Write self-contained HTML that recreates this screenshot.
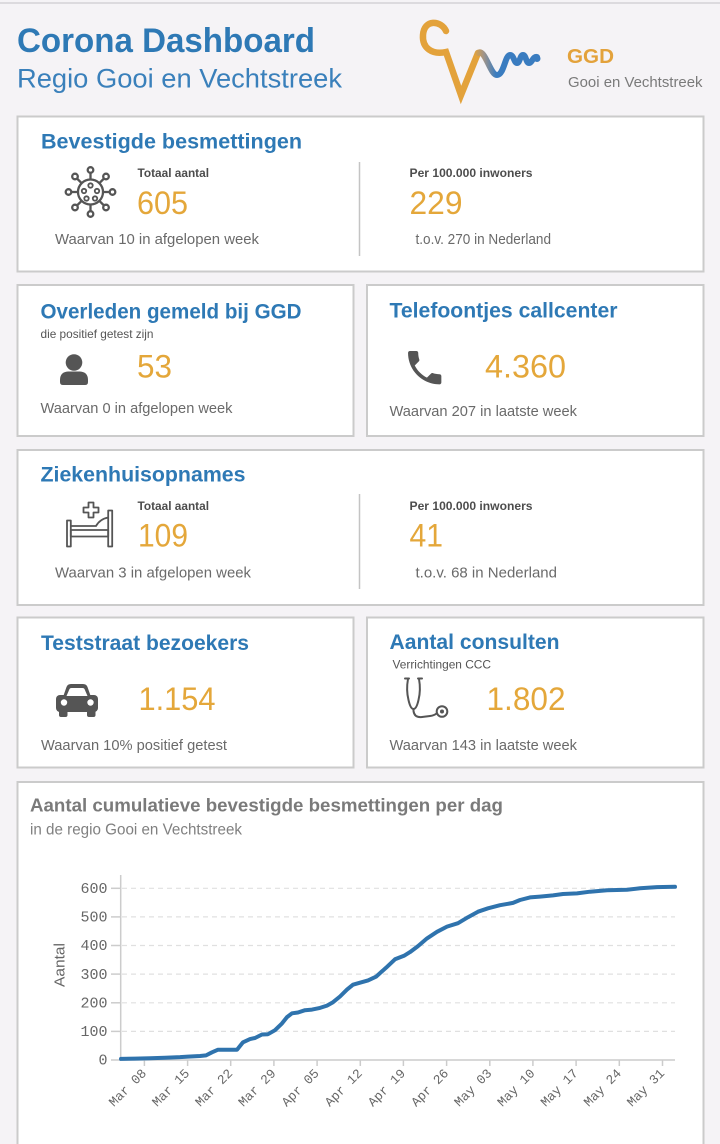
<!DOCTYPE html>
<html>
<head>
<meta charset="utf-8">
<style>
  html, body { margin: 0; padding: 0; background: #f5f3f6; }
  body { width: 720px; height: 1144px; overflow: hidden; }
  svg { display: block; }
</style>
</head>
<body>
<svg width="720" height="1144" viewBox="0 0 720 1144" xmlns="http://www.w3.org/2000/svg" font-family="'Liberation Sans', Arial, sans-serif">
  <defs>
    <linearGradient id="lg" x1="474" y1="0" x2="496" y2="0" gradientUnits="userSpaceOnUse">
      <stop offset="0" stop-color="#e3a23b"/>
      <stop offset="0.45" stop-color="#a0948a"/>
      <stop offset="1" stop-color="#3a7cc0"/>
    </linearGradient>
  </defs>
  <rect width="720" height="1144" fill="#f5f3f6"/>
  <line x1="0" y1="3" x2="720" y2="3" stroke="#d4d2d6" stroke-width="1.5"/>

  <!-- Header -->
  <text x="17" y="52" font-size="34" font-weight="bold" fill="#2e79b5" textLength="298" lengthAdjust="spacingAndGlyphs">Corona Dashboard</text>
  <text x="17" y="87.5" font-size="27" fill="#3a80bb" textLength="325" lengthAdjust="spacingAndGlyphs">Regio Gooi en Vechtstreek</text>

  <!-- Logo -->
  <path d="M446,31 C441,20 424,19 423,35 C422,48 432,55 446,52 L461,95 L478,53" fill="none" stroke="#e3a23b" stroke-width="6.5" stroke-linecap="round" stroke-linejoin="miter" stroke-miterlimit="10"/>
  <path d="M478,53 C485,48 490,75 497,75 C504,75 505,55 510,55 C514,55 514,63 517,63 C520,63 520,55 523,55 C526,55 526,63 529,63 C532,63 533,56 537,57" fill="none" stroke="url(#lg)" stroke-width="6" stroke-linecap="round"/>
  <circle cx="537" cy="58.5" r="3.5" fill="#3a7cc0"/>
  <text x="567" y="63" font-size="20.5" font-weight="bold" fill="#e3a23b" textLength="47" lengthAdjust="spacingAndGlyphs">GGD</text>
  <text x="568" y="87" font-size="14.5" fill="#7a7a7a" textLength="134.5" lengthAdjust="spacingAndGlyphs">Gooi en Vechtstreek</text>

  <!-- Cards -->
  <g fill="#ffffff" stroke="#cbcbcb" stroke-width="2">
    <rect x="17.5" y="116.5" width="686" height="155"/>
    <rect x="17.5" y="285" width="336" height="151"/>
    <rect x="367" y="285" width="336.5" height="151"/>
    <rect x="17.5" y="450" width="686" height="155"/>
    <rect x="17.5" y="617.5" width="336" height="150"/>
    <rect x="367" y="617.5" width="336.5" height="150"/>
    <rect x="17.5" y="782" width="686" height="400"/>
  </g>

  <!-- Card 1 -->
  <text x="41" y="148.5" font-size="21" font-weight="bold" fill="#2e79b5" textLength="261" lengthAdjust="spacingAndGlyphs">Bevestigde besmettingen</text>
  <g fill="none" stroke="#555" stroke-width="2.3">
    <circle cx="90.5" cy="192" r="12.5"/>
    <line x1="90.5" y1="179.5" x2="90.5" y2="173"/>
    <line x1="90.5" y1="204.5" x2="90.5" y2="211"/>
    <line x1="78" y1="192" x2="71.5" y2="192"/>
    <line x1="103" y1="192" x2="109.5" y2="192"/>
    <line x1="81.7" y1="183.2" x2="77" y2="178.5"/>
    <line x1="99.3" y1="183.2" x2="104" y2="178.5"/>
    <line x1="81.7" y1="200.8" x2="77" y2="205.5"/>
    <line x1="99.3" y1="200.8" x2="104" y2="205.5"/>
    <circle cx="90.5" cy="170" r="2.8" fill="#fff"/>
    <circle cx="90.5" cy="214" r="2.8" fill="#fff"/>
    <circle cx="68.5" cy="192" r="2.8" fill="#fff"/>
    <circle cx="112.5" cy="192" r="2.8" fill="#fff"/>
    <circle cx="75" cy="176.5" r="2.8" fill="#fff"/>
    <circle cx="106" cy="176.5" r="2.8" fill="#fff"/>
    <circle cx="75" cy="207.5" r="2.8" fill="#fff"/>
    <circle cx="106" cy="207.5" r="2.8" fill="#fff"/>
  </g>
  <g fill="none" stroke="#555" stroke-width="1.8">
    <circle cx="90.5" cy="185.5" r="2.2"/>
    <circle cx="84" cy="191" r="2.2"/>
    <circle cx="97" cy="191" r="2.2"/>
    <circle cx="86.5" cy="198.5" r="2.2"/>
    <circle cx="95" cy="198.5" r="2.2"/>
  </g>
  <text x="137.5" y="177" font-size="11.7" font-weight="bold" fill="#4d4d4d" textLength="71.5" lengthAdjust="spacingAndGlyphs">Totaal aantal</text>
  <text x="137" y="214" font-size="32" fill="#e4a73a" textLength="51" lengthAdjust="spacingAndGlyphs">605</text>
  <text x="55" y="244" font-size="14.8" fill="#6a6a6a" textLength="204" lengthAdjust="spacingAndGlyphs">Waarvan 10 in afgelopen week</text>
  <line x1="359.5" y1="162" x2="359.5" y2="256" stroke="#c4c4c4" stroke-width="1.5"/>
  <text x="409.5" y="177" font-size="11.7" font-weight="bold" fill="#4d4d4d" textLength="123" lengthAdjust="spacingAndGlyphs">Per 100.000 inwoners</text>
  <text x="409.5" y="214" font-size="32" fill="#e4a73a" textLength="53" lengthAdjust="spacingAndGlyphs">229</text>
  <text x="415.5" y="244" font-size="14.8" fill="#6a6a6a" textLength="135.5" lengthAdjust="spacingAndGlyphs">t.o.v. 270 in Nederland</text>

  <!-- Card 2 -->
  <text x="40.5" y="318.5" font-size="21" font-weight="bold" fill="#2e79b5" textLength="261" lengthAdjust="spacingAndGlyphs">Overleden gemeld bij GGD</text>
  <text x="40.5" y="338" font-size="11.7" fill="#555" textLength="113" lengthAdjust="spacingAndGlyphs">die positief getest zijn</text>
  <circle cx="74" cy="362.5" r="8.3" fill="#555"/>
  <path d="M60,382 L60,380 Q60,372 68,371.5 L80,371.5 Q88,372 88,380 L88,382 Q88,385 85,385 L63,385 Q60,385 60,382 Z" fill="#555"/>
  <text x="137" y="377.5" font-size="32" fill="#e4a73a" textLength="35" lengthAdjust="spacingAndGlyphs">53</text>
  <text x="40.5" y="413" font-size="14.8" fill="#6a6a6a" textLength="192" lengthAdjust="spacingAndGlyphs">Waarvan 0 in afgelopen week</text>

  <!-- Card 3 -->
  <text x="389.5" y="317.5" font-size="21" font-weight="bold" fill="#2e79b5" textLength="228" lengthAdjust="spacingAndGlyphs">Telefoontjes callcenter</text>
  <g transform="translate(402.5,345.5) scale(1.85)">
    <path d="M6.62 10.79c1.44 2.83 3.76 5.14 6.59 6.59l2.2-2.2c.27-.27.67-.36 1.020-.24 1.12.37 2.33.57 3.57.57.55 0 1 .45 1 1V20c0 .55-.45 1-1 1-9.39 0-17-7.61-17-17 0-.55.45-1 1-1h3.5c.55 0 1 .45 1 1 0 1.25.2 2.45.57 3.57.11.35.03.74-.25 1.020l-2.2 2.2z" fill="#555"/>
  </g>
  <text x="485" y="377.5" font-size="32" fill="#e4a73a" textLength="81" lengthAdjust="spacingAndGlyphs">4.360</text>
  <text x="389.5" y="416" font-size="14.8" fill="#6a6a6a" textLength="187.5" lengthAdjust="spacingAndGlyphs">Waarvan 207 in laatste week</text>

  <!-- Card 4 -->
  <text x="40.5" y="481.5" font-size="21" font-weight="bold" fill="#2e79b5" textLength="205" lengthAdjust="spacingAndGlyphs">Ziekenhuisopnames</text>
  <g fill="none" stroke="#555" stroke-width="1.8" stroke-linejoin="round">
    <path d="M88.5,502.5 h5 v5 h5 v5 h-5 v5 h-5 v-5 h-5 v-5 h5 z"/>
    <rect x="67" y="520.5" width="3.8" height="26"/>
    <rect x="108.2" y="510.5" width="4" height="36"/>
    <rect x="70.8" y="530" width="37.4" height="6.5"/>
    <path d="M70.8,526 L96,526 Q100,519 108.2,517.5"/>
  </g>
  <text x="137.5" y="510" font-size="11.7" font-weight="bold" fill="#4d4d4d" textLength="71.5" lengthAdjust="spacingAndGlyphs">Totaal aantal</text>
  <text x="138" y="546.5" font-size="32" fill="#e4a73a" textLength="50" lengthAdjust="spacingAndGlyphs">109</text>
  <text x="55" y="577.5" font-size="14.8" fill="#6a6a6a" textLength="196" lengthAdjust="spacingAndGlyphs">Waarvan 3 in afgelopen week</text>
  <line x1="359.5" y1="494" x2="359.5" y2="589" stroke="#c4c4c4" stroke-width="1.5"/>
  <text x="409.5" y="510" font-size="11.7" font-weight="bold" fill="#4d4d4d" textLength="123" lengthAdjust="spacingAndGlyphs">Per 100.000 inwoners</text>
  <text x="409.5" y="546.5" font-size="32" fill="#e4a73a" textLength="33.5" lengthAdjust="spacingAndGlyphs">41</text>
  <text x="415.5" y="577.5" font-size="14.8" fill="#6a6a6a" textLength="141.5" lengthAdjust="spacingAndGlyphs">t.o.v. 68 in Nederland</text>

  <!-- Card 5 -->
  <text x="41" y="650" font-size="21" font-weight="bold" fill="#2e79b5" textLength="208" lengthAdjust="spacingAndGlyphs">Teststraat bezoekers</text>
  <g fill="#555">
    <path d="M63,697 L66.5,687 Q67.5,684 71,684 L83,684 Q86.5,684 87.5,687 L91,697 Z"/>
    <rect x="56" y="695" width="42" height="17" rx="4"/>
    <rect x="59" y="708" width="8.5" height="9" rx="2"/>
    <rect x="87" y="708" width="8.5" height="9" rx="2"/>
  </g>
  <path d="M66.5,696 L69.5,689 Q70,688 71.5,688 L82.5,688 Q84,688 84.5,689 L87.5,696 Z" fill="#fff"/>
  <circle cx="64" cy="702.5" r="3.2" fill="#fff"/>
  <circle cx="90.5" cy="702.5" r="3.2" fill="#fff"/>
  <text x="138.5" y="710" font-size="32" fill="#e4a73a" textLength="77" lengthAdjust="spacingAndGlyphs">1.154</text>
  <text x="41" y="750" font-size="14.8" fill="#6a6a6a" textLength="186" lengthAdjust="spacingAndGlyphs">Waarvan 10% positief getest</text>

  <!-- Card 6 -->
  <text x="389.5" y="649" font-size="21" font-weight="bold" fill="#2e79b5" textLength="170" lengthAdjust="spacingAndGlyphs">Aantal consulten</text>
  <text x="392.5" y="668.5" font-size="11.7" fill="#555" textLength="98.5" lengthAdjust="spacingAndGlyphs">Verrichtingen CCC</text>
  <g fill="none" stroke="#555" stroke-width="2" stroke-linecap="round">
    <path d="M408,679 Q406,690 408.5,700 Q410.5,709 413.5,709 Q416.5,709 418.5,700 Q421,690 419,679"/>
    <path d="M413.5,709 L413.5,711 Q414.5,718 422,717 L430,716 Q434,715.5 436.5,713.5"/>
    <circle cx="442" cy="711.5" r="5.3"/>
    <line x1="405" y1="678.5" x2="409" y2="678.5"/>
    <line x1="418" y1="678.5" x2="422" y2="678.5"/>
  </g>
  <circle cx="442" cy="711.5" r="2" fill="#555"/>
  <text x="486.5" y="710" font-size="32" fill="#e4a73a" textLength="79" lengthAdjust="spacingAndGlyphs">1.802</text>
  <text x="389.5" y="750" font-size="14.8" fill="#6a6a6a" textLength="187.5" lengthAdjust="spacingAndGlyphs">Waarvan 143 in laatste week</text>

  <!-- Chart -->
  <text x="30" y="811.5" font-size="18.5" font-weight="bold" fill="#7a7a7a" textLength="473" lengthAdjust="spacingAndGlyphs">Aantal cumulatieve bevestigde besmettingen per dag</text>
  <text x="30" y="834.5" font-size="15.5" fill="#808080" textLength="212" lengthAdjust="spacingAndGlyphs">in de regio Gooi en Vechtstreek</text>

  <g stroke="#e0e0e0" stroke-width="1.2" stroke-dasharray="5 4">
    <line x1="122" y1="888.3" x2="675" y2="888.3"/>
    <line x1="122" y1="916.9" x2="675" y2="916.9"/>
    <line x1="122" y1="945.5" x2="675" y2="945.5"/>
    <line x1="122" y1="974.1" x2="675" y2="974.1"/>
    <line x1="122" y1="1002.8" x2="675" y2="1002.8"/>
    <line x1="122" y1="1031.4" x2="675" y2="1031.4"/>
  </g>
  <g stroke="#cccccc" stroke-width="1.5">
    <line x1="120.7" y1="875" x2="120.7" y2="1060"/>
    <line x1="120" y1="1060" x2="675" y2="1060"/>
    <line x1="111" y1="888.3" x2="120.7" y2="888.3"/>
    <line x1="111" y1="916.9" x2="120.7" y2="916.9"/>
    <line x1="111" y1="945.5" x2="120.7" y2="945.5"/>
    <line x1="111" y1="974.1" x2="120.7" y2="974.1"/>
    <line x1="111" y1="1002.8" x2="120.7" y2="1002.8"/>
    <line x1="111" y1="1031.4" x2="120.7" y2="1031.4"/>
    <line x1="111" y1="1060" x2="120.7" y2="1060"/>
    <line x1="144.4" y1="1060" x2="144.4" y2="1066"/>
    <line x1="187.6" y1="1060" x2="187.6" y2="1066"/>
    <line x1="230.7" y1="1060" x2="230.7" y2="1066"/>
    <line x1="273.9" y1="1060" x2="273.9" y2="1066"/>
    <line x1="317.1" y1="1060" x2="317.1" y2="1066"/>
    <line x1="360.3" y1="1060" x2="360.3" y2="1066"/>
    <line x1="403.4" y1="1060" x2="403.4" y2="1066"/>
    <line x1="446.6" y1="1060" x2="446.6" y2="1066"/>
    <line x1="489.8" y1="1060" x2="489.8" y2="1066"/>
    <line x1="532.9" y1="1060" x2="532.9" y2="1066"/>
    <line x1="576.1" y1="1060" x2="576.1" y2="1066"/>
    <line x1="619.3" y1="1060" x2="619.3" y2="1066"/>
    <line x1="662.5" y1="1060" x2="662.5" y2="1066"/>
  </g>

  <g font-family="'Liberation Mono', 'DejaVu Sans Mono', monospace" font-size="15" fill="#666" text-anchor="end">
    <text x="107.5" y="893">600</text>
    <text x="107.5" y="921.6">500</text>
    <text x="107.5" y="950.2">400</text>
    <text x="107.5" y="978.8">300</text>
    <text x="107.5" y="1007.5">200</text>
    <text x="107.5" y="1036.1">100</text>
    <text x="107.5" y="1064.7">0</text>
  </g>

  <text transform="translate(64.5,965) rotate(-90)" font-size="15" fill="#666" text-anchor="middle" textLength="44" lengthAdjust="spacingAndGlyphs">Aantal</text>

  <g font-family="'Liberation Mono', 'DejaVu Sans Mono', monospace" font-size="13" fill="#666" text-anchor="end">
    <text transform="translate(147,1074) rotate(-45)">Mar 08</text>
    <text transform="translate(190.2,1074) rotate(-45)">Mar 15</text>
    <text transform="translate(233.3,1074) rotate(-45)">Mar 22</text>
    <text transform="translate(276.5,1074) rotate(-45)">Mar 29</text>
    <text transform="translate(319.7,1074) rotate(-45)">Apr 05</text>
    <text transform="translate(362.9,1074) rotate(-45)">Apr 12</text>
    <text transform="translate(406,1074) rotate(-45)">Apr 19</text>
    <text transform="translate(449.2,1074) rotate(-45)">Apr 26</text>
    <text transform="translate(492.4,1074) rotate(-45)">May 03</text>
    <text transform="translate(535.5,1074) rotate(-45)">May 10</text>
    <text transform="translate(578.7,1074) rotate(-45)">May 17</text>
    <text transform="translate(621.9,1074) rotate(-45)">May 24</text>
    <text transform="translate(665.1,1074) rotate(-45)">May 31</text>
  </g>

  <polyline fill="none" stroke="#2f73ad" stroke-width="4" stroke-linejoin="round" stroke-linecap="round"
    points="121,1058.9 135,1058.6 150,1058.3 165,1057.7 180,1057.1 188,1056.6 200,1056.0 206,1055.4 212,1052.3 218,1049.7 225,1049.7 237,1049.7 243,1042.3 250,1039.1 255,1038.0 262,1034.5 268,1034.2 275,1030.2 282,1023.4 287,1017.1 292,1013.3 298,1012.5 305,1010.2 312,1009.6 320,1007.9 327,1005.6 333,1002.2 340,996.5 347,989.6 353,984.7 360,982.7 368,980.4 376,976.7 386,967.8 395,959.3 404,955.8 410,952.1 418,946.1 427,938.4 437,931.8 447,926.6 458,923.2 468,917.2 478,911.7 488,908.3 500,905.2 513,902.9 520,900.0 530,897.4 540,896.6 553,895.4 563,894.0 577,893.4 590,891.7 607,890.3 627,889.7 640,888.3 657,887.1 675,886.8"/>
</svg>
</body>
</html>
